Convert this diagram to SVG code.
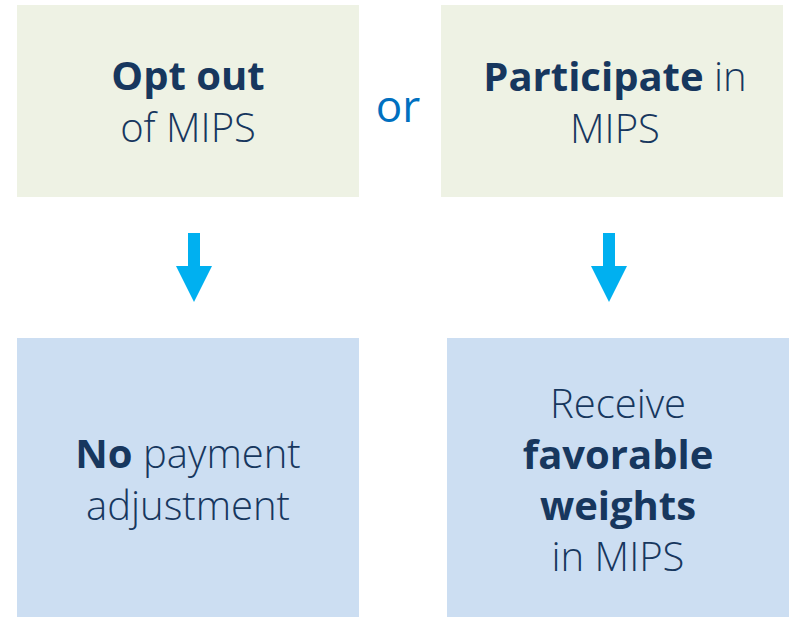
<svg xmlns="http://www.w3.org/2000/svg" width="792" height="617" viewBox="0 0 792 617">
<style>
.t{font-family:"Open Sans","Noto Sans","Liberation Sans",sans-serif;font-size:40px;fill:#17375E;text-anchor:middle;font-weight:300}
.b{font-weight:700}
.g{fill:#EEF2E4}
.u{fill:#CCDEF2}
.arr{fill:#00B0F0}
</style>
<rect width="792" height="617" fill="#FFFFFF"/>
<g id="opt-out">
<rect class="g" x="17" y="5" width="342" height="192"/>
<text class="t" x="188" y="90"><tspan class="b">Opt out</tspan></text>
<text class="t" x="188" y="142">of MIPS</text>
</g>
<g id="or">
<text x="398" y="122" style="font-family:'Open Sans','Noto Sans',sans-serif;font-size:44px;fill:#0070C0;text-anchor:middle">or</text>
</g>
<g id="participate">
<rect class="g" x="441" y="5" width="342" height="192"/>
<text class="t" x="615" y="91"><tspan class="b">Participate</tspan> in</text>
<text class="t" x="615" y="143">MIPS</text>
</g>
<g id="no-adjust">
<rect class="u" x="17" y="338" width="342" height="279"/>
<text class="t" x="188" y="468"><tspan class="b">No</tspan> payment</text>
<text class="t" x="188" y="520">adjustment</text>
</g>
<g id="favorable">
<rect class="u" x="447" y="338" width="342" height="279"/>
<text class="t" x="618" y="418">Receive</text>
<text class="t b" x="618" y="469">favorable</text>
<text class="t b" x="618" y="520">weights</text>
<text class="t" x="618" y="571">in MIPS</text>
</g>
<g id="connectors">
<polygon class="arr" points="188,233 200,233 200,266 212,266 194,302 176,266 188,266"/>
<polygon class="arr" points="603,233 615,233 615,266 627,266 609,302 591,266 603,266"/>
</g>
</svg>
